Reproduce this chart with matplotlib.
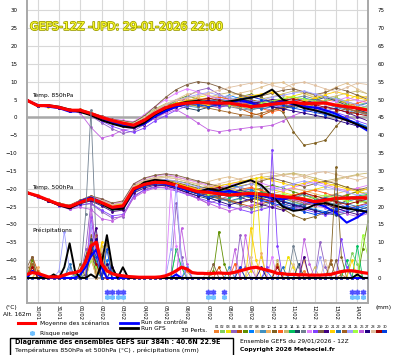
import numpy as np
import matplotlib
matplotlib.use('Agg')
import matplotlib.pyplot as plt
import matplotlib.patheffects as pe
from matplotlib.lines import Line2D
from matplotlib.patches import Rectangle

W, H = 395, 355

# forecast hours since 29/01 12Z
hours = np.arange(0, 385, 12)      # temperatures
hours_pr = np.arange(0, 385, 6)    # precipitation

day_hours = np.arange(12, 385, 24)
day_labels = ['30/01', '31/01', '01/02', '02/02', '03/02', '04/02', '05/02', '06/02',
              '07/02', '08/02', '09/02', '10/02', '11/02', '12/02', '13/02', '14/02']
snow_hours = [90, 96, 102, 108, 204, 210, 222, 366, 372, 378]

member_colors = ['#f08030', '#80d060', '#f0e000', '#9060c0', '#c05000', '#609000', '#0080ff',
                 '#e0c090', '#4090c0', '#f0b060', '#806020', '#ff6020', '#c8b870', '#00c060',
                 '#204060', '#708090', '#e080ff', '#8040ff', '#806040', '#400080', '#ffd000',
                 '#2070c0', '#a06020', '#a0a0ff', '#a0ff40', '#c060e0', '#200080', '#e0c0a0',
                 '#a00000', '#0040e0']

# ---- 850 hPa temperature (°C) ----
mean850 = [4.8, 3.3, 3.3, 2.8, 2.0, 2.0, 1.1, 0.0, -0.9, -1.6, -2.2, -0.8, 1.2, 2.7, 3.6, 4.0, 4.2,
           4.1, 4.0, 4.0, 3.5, 3.0, 3.3, 3.7, 4.0, 4.3, 3.8, 4.0, 4.0, 3.4, 3.0, 2.6, 2.0]
ctrl850 = [4.8, 3.5, 3.0, 2.6, 1.6, 1.8, 0.8, -0.5, -1.5, -2.3, -2.8, -1.8, 0.3, 1.8, 3.0, 3.8, 4.5,
           4.0, 3.6, 4.2, 4.8, 4.0, 3.2, 3.8, 4.5, 3.6, 3.0, 2.8, 2.0, 1.0, -0.5, -2.0, -3.8]
gfs850 = [4.8, 3.2, 3.4, 3.0, 2.2, 1.5, 0.6, -0.8, -1.8, -2.6, -2.9, -1.5, 0.8, 2.4, 3.6, 4.4, 4.6,
          4.2, 4.0, 4.5, 5.0, 5.5, 6.2, 7.8, 5.0, 3.8, 2.6, 2.0, 1.2, 0.2, -0.8, -2.0, -3.2]
t850 = [
    [4.9, 3.6, 3.1, 2.5, 2.3, 1.7, 0.9, -0.4, -1.2, -2.0, -2.4, -0.2, 2.0, 3.5, 4.6, 5.2, 4.8, 3.9, 3.2, 3.8, 4.5, 3.6, 2.8, 3.5, 5.0, 5.8, 4.6, 3.9, 4.4, 5.2, 4.1, 3.0, 2.4],
    [4.7, 3.1, 3.5, 3.0, 1.8, 2.2, 1.4, 0.3, -0.6, -1.0, -1.5, 0.5, 2.4, 3.8, 4.2, 3.6, 3.1, 3.8, 4.9, 5.5, 4.2, 3.3, 4.0, 4.8, 5.3, 4.0, 3.2, 3.6, 4.8, 5.6, 4.4, 3.5, 4.2],
    [4.8, 3.4, 3.0, 2.9, 2.1, 1.8, 1.0, 0.1, -1.1, -1.9, -2.6, -1.5, 0.6, 2.0, 3.2, 4.5, 5.6, 6.2, 5.0, 4.1, 3.0, 2.4, 3.1, 4.4, 5.2, 6.0, 6.8, 5.5, 4.3, 3.6, 4.8, 6.2, 5.5],
    [4.6, 3.2, 3.3, 2.6, 1.9, 2.1, 0.4, -1.5, -3.2, -4.5, -3.8, -2.0, 0.2, 1.5, 3.0, 5.8, 7.5, 8.2, 6.5, 5.0, 4.2, 3.5, 2.8, 2.0, 3.2, 4.5, 3.6, 2.5, 1.8, 2.6, 3.4, 2.2, 1.0],
    [4.9, 3.5, 3.2, 2.7, 2.0, 2.3, 1.3, 0.2, -0.8, -1.4, -2.0, -0.5, 1.5, 2.8, 3.5, 3.8, 4.5, 5.0, 4.4, 3.6, 2.5, 1.2, 0.5, 1.8, 3.0, 3.6, 2.8, 3.5, 4.0, 3.2, 2.4, 1.5, 0.8],
    [4.8, 3.3, 3.4, 2.9, 2.2, 1.9, 1.2, 0.1, -1.0, -1.7, -2.3, -1.0, 1.0, 3.0, 4.8, 6.0, 5.2, 4.4, 3.8, 4.6, 5.8, 6.5, 5.6, 4.2, 3.5, 3.0, 4.0, 5.2, 6.0, 5.0, 3.8, 2.5, 3.3],
    [4.7, 3.2, 3.2, 2.7, 1.9, 2.0, 1.0, -0.2, -1.3, -2.2, -2.9, -1.8, 0.0, 1.8, 3.0, 3.6, 4.0, 4.6, 5.4, 6.2, 5.2, 4.0, 3.5, 4.2, 4.9, 4.2, 3.0, 2.2, 1.5, 0.6, -0.5, -1.5, -2.6],
    [4.8, 3.4, 3.3, 2.8, 2.1, 2.0, 1.2, 0.3, -0.5, -1.3, -1.8, 0.0, 2.2, 3.8, 5.0, 6.5, 7.0, 6.2, 5.5, 6.0, 6.8, 7.5, 8.5, 9.5, 9.8, 8.2, 6.5, 5.8, 7.0, 8.5, 9.6, 8.0, 6.5],
    [4.8, 3.2, 3.4, 2.6, 1.8, 2.1, 1.0, -0.1, -1.0, -1.8, -2.5, -1.2, 0.5, 2.2, 3.4, 3.2, 2.8, 3.5, 4.2, 3.6, 2.9, 2.2, 3.0, 3.8, 3.2, 2.5, 3.4, 4.5, 3.8, 2.8, 2.0, 1.2, 2.0],
    [4.9, 3.5, 3.2, 2.8, 2.2, 1.9, 1.2, 0.2, -0.7, -1.5, -2.0, -0.6, 1.6, 3.2, 4.0, 4.6, 5.5, 4.8, 4.2, 3.4, 2.6, 3.5, 4.5, 5.0, 4.2, 3.6, 2.8, 2.0, 2.9, 3.8, 4.5, 5.2, 6.0],
    [4.7, 3.3, 3.4, 2.9, 2.0, 2.1, 1.1, 0.0, -0.9, -1.5, -2.1, -0.4, 1.8, 3.2, 4.0, 4.4, 3.8, 3.2, 2.8, 3.6, 4.4, 5.0, 4.2, 3.2, 1.5, -4.0, -7.8, -7.2, -6.4, -2.5, 0.5, 1.8, 2.5],
    [4.8, 3.3, 3.2, 2.8, 2.1, 2.0, 1.0, -0.1, -1.0, -1.6, -2.2, -0.9, 1.1, 2.6, 3.7, 4.2, 4.6, 5.2, 5.8, 5.0, 4.2, 3.6, 2.5, 1.6, 2.2, 3.5, 4.2, 5.0, 4.4, 3.6, 3.0, 4.0, 4.8],
    [4.8, 3.4, 3.1, 2.7, 2.0, 1.9, 1.1, 0.1, -0.8, -1.6, -2.2, -1.0, 1.0, 2.4, 3.3, 4.0, 4.8, 5.6, 6.4, 7.0, 6.4, 5.8, 5.2, 5.8, 6.6, 7.4, 7.0, 6.2, 5.4, 6.0, 6.8, 7.4, 6.6],
    [4.8, 3.3, 3.3, 2.8, 2.0, 2.0, 1.0, 0.0, -0.9, -1.7, -2.3, -0.9, 1.3, 2.8, 3.6, 4.1, 4.3, 4.0, 3.9, 4.1, 3.6, 3.2, 3.4, 3.8, 4.1, 4.4, 3.9, 4.1, 4.0, 3.5, 3.1, 2.7, 2.2],
    [4.8, 3.4, 3.2, 2.7, 1.9, 2.0, 1.2, 0.2, -0.7, -1.3, -1.9, -0.5, 1.4, 2.9, 3.3, 2.6, 2.0, 2.8, 3.6, 4.4, 5.2, 4.6, 3.8, 3.0, 2.4, 3.2, 4.0, 4.8, 5.6, 4.6, 3.4, 2.2, 1.2],
    [4.9, 3.3, 3.3, 2.8, 2.0, 1.9, 1.0, -0.2, -1.2, -2.0, -2.6, -1.3, 0.8, 2.3, 3.6, 4.4, 5.0, 4.4, 3.6, 3.0, 2.4, 2.0, 2.8, 3.6, 4.6, 5.4, 6.0, 5.2, 4.2, 3.4, 2.6, 1.6, 0.6],
    [4.7, 3.2, 3.4, 2.9, 2.1, 2.1, 1.2, 0.4, -0.4, -0.8, -1.2, 0.8, 3.0, 5.0, 6.8, 8.0, 7.2, 6.0, 5.2, 4.8, 5.5, 6.2, 5.0, 4.2, 3.6, 4.4, 5.2, 4.5, 3.8, 4.6, 5.6, 4.8, 4.0],
    [4.8, 3.2, 3.2, 2.7, 1.8, 1.8, 0.6, -1.0, -2.5, -3.5, -4.2, -3.0, -1.0, 0.5, 2.0, 3.2, 4.0, 3.6, 2.8, 3.4, 4.0, 4.6, 4.0, 3.4, 2.8, 3.6, 4.4, 3.4, 2.2, 1.4, 0.4, -1.0, -2.0],
    [4.8, 3.5, 3.4, 2.8, 2.1, 2.0, 1.3, 0.4, -0.5, -1.0, -1.4, 0.4, 3.0, 5.6, 7.8, 9.2, 10.0, 9.6, 8.6, 7.4, 6.2, 5.6, 6.0, 6.8, 7.6, 8.0, 7.2, 6.4, 7.0, 8.2, 7.4, 6.2, 5.0],
    [4.8, 3.3, 3.2, 2.7, 1.9, 2.0, 1.0, -0.3, -1.4, -2.4, -3.0, -2.0, -0.2, 1.5, 2.8, 3.8, 4.4, 4.8, 4.2, 3.6, 3.2, 3.8, 4.4, 5.0, 4.6, 3.8, 3.2, 2.6, 3.0, 2.4, 1.4, 0.2, -1.0],
    [4.9, 3.4, 3.3, 2.9, 2.2, 2.1, 1.2, 0.1, -0.8, -1.4, -2.0, -0.7, 1.2, 2.9, 4.0, 4.8, 4.2, 3.4, 3.8, 4.6, 5.4, 6.0, 6.6, 7.0, 6.2, 5.4, 4.6, 5.4, 6.4, 7.2, 6.4, 5.6, 4.8],
    [4.8, 3.3, 3.4, 2.8, 2.0, 2.0, 1.1, 0.0, -0.9, -1.8, -2.4, -1.1, 0.9, 2.5, 3.2, 3.6, 3.8, 4.4, 5.0, 4.6, 3.8, 3.0, 2.4, 3.0, 3.8, 4.6, 5.4, 4.8, 4.0, 3.2, 2.4, 3.2, 4.0],
    [4.8, 3.4, 3.2, 2.8, 2.0, 2.0, 1.1, 0.0, -0.9, -1.6, -2.2, -0.8, 1.2, 2.6, 3.4, 3.8, 3.2, 2.6, 2.0, 1.4, 0.8, 0.5, 1.2, 2.0, 2.8, 3.4, 2.6, 1.8, 1.0, 1.6, 2.4, 1.8, 1.0],
    [4.7, 3.3, 3.3, 2.8, 2.0, 2.1, 1.1, 0.0, -0.8, -1.5, -2.1, -0.6, 1.6, 3.4, 4.8, 5.6, 6.4, 7.0, 6.2, 5.6, 4.8, 4.2, 4.8, 5.6, 6.2, 6.8, 7.4, 6.6, 5.8, 5.2, 4.4, 3.6, 2.8],
    [4.8, 3.3, 3.3, 2.8, 2.0, 2.0, 1.1, 0.0, -0.9, -1.6, -2.2, -0.8, 1.2, 2.8, 3.8, 4.4, 4.8, 4.4, 4.0, 3.6, 3.2, 3.6, 4.0, 4.6, 5.2, 5.8, 5.2, 4.6, 4.0, 3.6, 3.4, 3.0, 2.6],
    [4.7, 3.1, 3.2, 2.6, 1.8, 1.2, -2.8, -5.8, -5.0, -3.5, -3.0, -1.8, -0.2, 1.2, 2.2, 0.5, -1.5, -3.4, -4.0, -3.6, -3.2, -2.8, -2.6, -2.2, -1.0, 0.5, 1.6, 2.0, 1.0, 0.0, -1.0, -2.0, -3.0],
    [4.8, 3.3, 3.2, 2.7, 1.9, 1.9, 1.0, -0.2, -1.2, -2.0, -2.7, -1.6, 0.4, 2.0, 3.2, 4.0, 4.6, 4.2, 3.8, 4.4, 5.0, 4.4, 3.6, 3.0, 2.4, 1.8, 1.2, 0.6, 0.0, -0.8, -1.6, -2.4, -3.2],
    [4.8, 3.4, 3.3, 2.9, 2.1, 2.0, 1.2, 0.2, -0.6, -1.2, -1.7, 0.0, 1.8, 3.6, 4.8, 5.4, 6.0, 6.8, 7.6, 8.4, 9.0, 9.6, 9.8, 9.0, 8.2, 9.4, 9.9, 9.0, 8.0, 7.2, 8.4, 9.6, 9.2],
    [4.8, 3.3, 3.3, 2.8, 2.0, 2.0, 1.0, -0.1, -1.0, -1.8, -2.4, -1.0, 1.0, 2.4, 3.4, 4.2, 4.8, 5.4, 4.8, 4.2, 3.6, 3.0, 3.6, 4.2, 4.8, 5.2, 4.4, 3.6, 2.8, 2.2, 1.6, 1.0, 0.4],
    [4.8, 3.3, 3.2, 2.8, 2.0, 1.9, 1.0, -0.2, -1.1, -1.9, -2.5, -1.3, 0.7, 2.3, 3.5, 4.1, 3.6, 3.0, 3.6, 4.4, 5.2, 5.8, 5.0, 4.2, 3.4, 2.6, 2.0, 1.4, 0.8, 0.2, -0.6, -1.6, -2.8],
]

# ---- 500 hPa temperature (°C) ----
mean500 = [-21.1, -22.0, -23.2, -24.4, -25.0, -23.8, -22.8, -23.9, -25.2, -24.8, -20.0, -18.8, -18.2,
           -18.3, -19.0, -19.9, -20.8, -21.0, -21.4, -21.8, -21.5, -21.3, -21.5, -21.9, -22.2, -22.5,
           -23.0, -23.6, -23.2, -22.7, -22.6, -22.5, -22.6]
ctrl500 = [-21.1, -22.2, -23.3, -24.5, -25.3, -23.5, -22.4, -23.8, -25.4, -25.2, -20.6, -19.0, -18.4,
           -18.6, -19.5, -20.3, -20.8, -20.2, -21.0, -20.6, -21.2, -22.0, -21.8, -22.5, -23.0, -22.4,
           -23.2, -24.0, -25.0, -26.8, -29.5, -28.0, -26.0]
gfs500 = [-21.1, -22.1, -23.4, -24.6, -25.5, -24.0, -22.6, -24.2, -25.8, -25.6, -20.4, -18.2, -17.5,
          -17.8, -18.9, -20.0, -21.0, -20.0, -20.5, -19.5, -18.5, -17.6, -19.0, -22.0, -25.0, -26.2,
          -25.8, -24.5, -24.0, -24.8, -25.5, -26.0, -26.5]
t500 = [
    [-21.0, -21.8, -23.0, -24.0, -24.6, -23.2, -22.0, -23.2, -24.6, -24.0, -19.2, -18.0, -17.4, -17.8, -18.6, -19.2, -20.0, -19.6, -20.4, -21.2, -20.6, -19.8, -20.6, -21.8, -22.6, -21.8, -21.0, -22.4, -23.6, -22.8, -21.6, -20.8, -21.6],
    [-21.2, -22.1, -23.4, -24.6, -25.3, -24.2, -23.4, -24.6, -26.0, -25.8, -21.0, -19.4, -18.6, -18.2, -18.8, -19.6, -20.2, -21.6, -22.8, -23.6, -22.8, -21.6, -20.8, -21.4, -22.6, -23.8, -24.6, -23.8, -22.6, -21.8, -22.4, -23.2, -24.0],
    [-21.1, -22.0, -23.1, -24.3, -24.8, -23.4, -22.4, -23.4, -24.8, -24.2, -19.6, -18.4, -17.8, -18.0, -18.4, -19.2, -20.4, -21.2, -20.8, -20.0, -19.2, -18.6, -19.4, -20.2, -21.0, -21.8, -21.0, -20.2, -19.4, -18.6, -19.6, -20.6, -21.4],
    [-21.0, -22.0, -23.2, -24.6, -25.4, -24.6, -24.2, -26.4, -28.2, -27.8, -22.4, -20.2, -19.4, -19.0, -19.8, -21.2, -22.6, -24.2, -23.0, -22.0, -20.8, -20.2, -21.6, -23.0, -24.4, -25.8, -24.8, -23.6, -22.4, -23.8, -25.2, -26.0, -25.2],
    [-21.1, -22.0, -23.3, -24.5, -25.1, -23.8, -22.6, -23.8, -25.0, -24.6, -19.8, -18.6, -18.0, -18.4, -19.2, -20.2, -21.2, -22.0, -22.8, -23.4, -24.2, -25.0, -24.2, -23.4, -22.6, -21.8, -22.6, -23.4, -24.2, -25.0, -25.6, -24.8, -24.0],
    [-21.2, -22.1, -23.2, -24.3, -24.9, -23.6, -22.8, -23.8, -25.0, -24.6, -20.2, -18.8, -18.0, -17.6, -17.8, -18.4, -19.2, -20.0, -21.0, -22.0, -21.4, -20.6, -19.8, -19.0, -19.8, -20.8, -21.8, -22.8, -23.6, -22.8, -21.8, -20.8, -20.0],
    [-21.0, -21.9, -23.1, -24.2, -25.0, -23.9, -23.0, -24.2, -25.6, -25.2, -20.4, -19.2, -18.6, -18.8, -19.6, -20.6, -21.4, -20.8, -19.8, -19.0, -19.6, -20.4, -21.4, -22.4, -23.4, -24.2, -25.0, -25.8, -26.4, -27.0, -26.2, -25.4, -24.6],
    [-21.1, -22.0, -23.2, -24.4, -25.0, -23.7, -22.6, -23.6, -24.8, -24.2, -19.4, -18.0, -17.2, -16.8, -17.2, -18.0, -18.8, -18.0, -17.2, -16.6, -17.4, -18.2, -17.4, -16.8, -16.2, -15.8, -16.6, -17.6, -18.4, -17.6, -16.8, -16.2, -17.0],
    [-21.1, -22.1, -23.3, -24.5, -25.2, -24.0, -23.0, -24.0, -25.4, -25.0, -20.2, -19.0, -18.4, -18.6, -19.4, -20.4, -21.4, -22.4, -23.4, -22.6, -21.6, -20.8, -21.6, -22.4, -23.2, -22.4, -21.6, -22.6, -23.6, -24.4, -23.6, -22.8, -23.6],
    [-21.0, -21.9, -23.1, -24.3, -24.9, -23.6, -22.6, -23.6, -24.8, -24.4, -19.6, -18.4, -17.8, -18.0, -18.6, -19.4, -20.2, -19.6, -19.0, -19.8, -20.6, -21.4, -22.2, -21.4, -20.6, -19.8, -20.6, -21.4, -22.2, -21.4, -20.6, -19.8, -20.4],
    [-21.1, -22.0, -23.2, -24.4, -25.0, -23.8, -22.8, -23.9, -25.2, -24.8, -20.0, -18.6, -17.8, -17.6, -18.2, -19.0, -19.8, -19.4, -20.2, -21.0, -21.8, -22.6, -23.4, -24.2, -25.6, -27.4, -28.6, -27.8, -26.6, -24.8, -23.2, -22.4, -22.0],
    [-21.2, -22.1, -23.3, -24.4, -25.0, -23.8, -22.7, -23.8, -25.1, -24.7, -19.9, -18.7, -18.1, -18.2, -18.8, -19.6, -20.4, -21.2, -22.0, -21.2, -20.2, -19.6, -20.4, -21.4, -22.4, -21.8, -21.0, -20.4, -21.2, -22.2, -23.0, -22.4, -21.8],
    [-21.0, -21.9, -23.0, -24.2, -24.8, -23.4, -22.2, -23.2, -24.4, -23.8, -19.0, -17.6, -16.8, -16.4, -16.8, -17.4, -18.0, -18.6, -19.2, -18.6, -18.0, -17.4, -16.8, -16.4, -16.0, -15.6, -16.2, -17.0, -17.8, -17.2, -16.6, -16.0, -15.6],
    [-21.1, -22.0, -23.2, -24.4, -25.0, -23.8, -22.8, -23.9, -25.2, -24.8, -20.0, -18.8, -18.2, -18.3, -19.0, -19.9, -20.8, -21.2, -21.6, -22.2, -21.8, -21.4, -21.0, -21.6, -22.2, -22.8, -23.4, -24.0, -23.4, -22.8, -22.4, -22.0, -21.6],
    [-21.1, -22.1, -23.3, -24.5, -25.2, -24.0, -23.2, -24.4, -25.8, -25.4, -20.6, -19.4, -18.8, -19.2, -20.0, -21.0, -22.0, -22.8, -22.0, -21.2, -20.4, -21.2, -22.0, -22.8, -23.6, -24.4, -25.2, -26.0, -26.8, -27.4, -26.8, -26.0, -25.2],
    [-21.0, -21.9, -23.1, -24.3, -24.9, -23.7, -22.8, -23.8, -25.0, -24.6, -19.8, -18.6, -18.0, -18.1, -18.8, -19.6, -20.6, -21.6, -22.6, -23.6, -24.6, -25.6, -24.8, -23.8, -22.8, -23.6, -24.4, -23.4, -22.4, -21.6, -22.4, -23.2, -22.4],
    [-21.1, -22.0, -23.2, -24.3, -24.8, -23.4, -22.2, -23.0, -24.2, -23.6, -18.8, -17.2, -16.4, -16.0, -16.6, -17.4, -18.2, -19.0, -19.8, -19.0, -18.2, -17.6, -18.4, -19.4, -20.4, -19.6, -18.8, -18.0, -18.8, -19.8, -20.6, -19.8, -19.0],
    [-21.2, -22.2, -23.4, -24.7, -25.6, -24.6, -24.0, -26.0, -27.6, -27.2, -22.0, -20.4, -19.6, -19.8, -20.6, -21.6, -22.6, -23.4, -24.2, -25.0, -25.8, -26.6, -25.8, -25.0, -24.2, -25.0, -25.8, -26.6, -27.4, -26.6, -25.8, -25.0, -24.2],
    [-21.0, -21.9, -23.0, -24.1, -24.6, -23.2, -22.0, -22.8, -24.0, -23.4, -18.6, -17.0, -16.2, -15.8, -16.2, -17.0, -17.8, -18.6, -19.4, -20.2, -19.4, -18.6, -17.8, -17.0, -17.8, -18.6, -19.4, -18.6, -17.8, -18.6, -19.6, -20.4, -19.6],
    [-21.1, -22.1, -23.3, -24.6, -25.3, -24.2, -23.4, -24.8, -26.4, -26.0, -21.2, -19.8, -19.0, -19.2, -20.0, -21.0, -22.0, -21.4, -20.6, -21.4, -22.4, -23.4, -24.4, -25.2, -26.0, -25.2, -24.4, -23.6, -24.4, -25.4, -26.4, -27.2, -26.4],
    [-21.1, -22.0, -23.1, -24.3, -24.9, -23.6, -22.5, -23.5, -24.7, -24.3, -19.5, -18.3, -17.7, -17.8, -18.5, -19.4, -20.3, -19.8, -19.2, -18.6, -18.0, -17.4, -16.8, -17.6, -18.4, -19.2, -18.4, -17.6, -18.4, -19.2, -20.0, -20.8, -20.0],
    [-21.0, -22.0, -23.2, -24.4, -25.1, -23.9, -22.9, -24.0, -25.3, -24.9, -20.1, -18.9, -18.3, -18.4, -19.1, -20.0, -20.9, -21.8, -22.6, -23.4, -22.6, -21.8, -22.6, -23.4, -24.2, -25.0, -24.2, -23.4, -22.6, -23.4, -24.2, -25.0, -25.8],
    [-21.2, -22.1, -23.3, -24.5, -25.1, -23.9, -22.9, -24.0, -25.3, -24.9, -20.1, -18.9, -18.3, -18.4, -19.1, -20.0, -20.9, -21.6, -22.4, -23.2, -24.0, -23.2, -22.4, -21.6, -22.4, -23.2, -24.0, -24.8, -24.0, -23.2, -22.4, -23.2, -24.0],
    [-21.1, -22.0, -23.2, -24.4, -25.0, -23.8, -22.8, -23.9, -25.2, -24.8, -20.0, -18.6, -17.8, -17.4, -17.8, -18.6, -19.4, -20.2, -21.0, -20.2, -19.4, -18.6, -19.4, -20.2, -19.4, -18.6, -17.8, -18.6, -19.4, -20.2, -21.0, -21.8, -21.0],
    [-21.0, -21.9, -23.1, -24.3, -24.9, -23.7, -22.7, -23.8, -25.1, -24.7, -19.9, -18.7, -18.1, -18.2, -18.9, -19.8, -20.7, -21.4, -20.8, -20.2, -21.0, -21.8, -22.6, -22.0, -21.4, -22.2, -23.0, -22.4, -21.8, -22.6, -23.4, -24.0, -23.4],
    [-21.2, -22.2, -23.4, -24.8, -25.8, -25.2, -25.8, -28.4, -29.0, -27.4, -22.6, -20.8, -19.8, -19.6, -20.4, -21.4, -22.8, -24.0, -25.2, -26.2, -25.4, -24.6, -23.8, -23.0, -22.2, -23.0, -23.8, -24.6, -25.4, -26.2, -27.0, -27.8, -27.0],
    [-21.1, -22.1, -23.3, -24.5, -25.2, -24.0, -23.0, -24.1, -25.5, -25.1, -20.3, -19.1, -18.5, -18.7, -19.5, -20.5, -21.5, -22.5, -23.5, -24.5, -23.7, -22.9, -22.1, -22.9, -23.7, -24.5, -25.3, -26.1, -26.9, -26.1, -25.3, -26.1, -26.9],
    [-21.0, -21.9, -23.0, -24.2, -24.7, -23.4, -22.3, -23.3, -24.5, -24.0, -19.2, -17.8, -17.0, -16.8, -17.2, -17.9, -18.6, -19.3, -18.6, -17.9, -17.2, -16.5, -15.8, -15.4, -16.2, -17.0, -16.4, -15.6, -15.2, -16.0, -16.8, -17.6, -16.8],
    [-21.1, -22.0, -23.2, -24.4, -25.0, -23.8, -22.8, -23.9, -25.2, -24.8, -20.0, -18.8, -18.2, -18.3, -19.0, -19.9, -20.8, -20.2, -19.6, -20.4, -21.2, -22.0, -22.8, -23.6, -22.8, -22.0, -21.2, -22.0, -22.8, -23.6, -24.4, -23.6, -22.8],
    [-21.1, -22.0, -23.2, -24.5, -25.1, -23.9, -23.0, -24.2, -25.5, -25.1, -20.3, -19.1, -18.5, -18.7, -19.4, -20.4, -21.4, -22.4, -21.6, -20.8, -21.6, -22.4, -23.2, -24.0, -24.8, -25.6, -26.4, -27.2, -26.4, -25.6, -24.8, -25.6, -26.4],
]

# ---- precipitation (mm / 6h) ----
mean_pr = [1.0, 1.5, 1.3, 0.8, 0.3, 0.3, 0.3, 0.8, 1.3, 1.5, 2.0, 4.5, 9.0,
           10.0, 4.0, 2.0, 1.2, 0.8, 0.6, 0.4, 0.3, 0.2, 0.2, 0.2, 0.2, 0.3,
           0.6, 1.2, 2.0, 3.0, 2.5, 1.5, 1.3, 1.3, 1.2, 1.3, 1.4, 1.3, 1.3,
           1.6, 2.0, 2.4, 2.8, 3.0, 2.6, 2.2, 1.8, 1.3, 1.2, 1.0, 1.0, 0.9,
           0.9, 0.8, 0.8, 0.8, 0.9, 1.0, 1.4, 1.8, 2.0, 2.0, 1.8, 1.5, 1.3]
ctrl_pr = [0, 2, 1, 0, 0, 0, 0, 0, 0, 0, 1, 3, 6,
           8, 3, 0, 0, 0, 0, 0, 0, 0, 0, 0, 0, 0,
           0, 0, 1, 0, 0, 0, 0, 0, 0, 0, 0, 0, 0,
           0, 0, 0, 0, 0, 0, 0, 0, 0, 0, 0, 0, 0,
           0, 0, 0, 0, 0, 0, 0, 0, 0, 0, 0, 0, 0]
gfs_pr = [0, 0, 0, 0, 0, 1, 0, 3, 9.7, 2, 0, 0, 1,
          0, 4, 12, 3, 0, 3, 0, 0, 0, 0, 0, 0, 0,
          0, 0, 0, 0, 0, 0, 0, 0, 0, 0, 0, 0, 0,
          0, 0, 0, 0, 0, 0, 0, 0, 0, 0, 0, 0, 0,
          0, 0, 0, 0, 0, 0, 0, 0, 0, 0, 1, 0, 0]
precip = [
    [0,2,1,0,0,0,0,0,0,0,0,5,8, 3,0,0,0,0,0,0,0,0,0,0,0,0, 0,0,0,0,2,0,0,0,0,0,0,0,0, 0,3,0,0,0,0,0,0,0,0,0,0,0, 2,0,0,0,0,0,0,1,0,0,0,0,0],
    [0,0,0,0,0,0,0,0,0,1,0,2,6, 9,4,0,0,0,0,0,0,0,0,0,0,0, 0,0,8,3,0,0,0,0,0,0,0,0,0, 0,0,0,0,0,0,0,0,0,0,0,0,0, 0,0,0,0,0,0,0,0,0,7,4,0,0],
    [0,0,2,0,0,0,0,0,0,0,0,6,12, 5,0,0,0,0,0,0,0,0,0,0,0,0, 0,0,0,0,0,0,0,0,0,0,0,0,0, 0,0,0,2,28,6,0,0,0,0,6,3,0, 0,0,0,0,0,0,0,0,0,0,0,0,0],
    [0,0,0,0,0,0,0,0,0,0,0,8,21, 7,0,0,0,0,0,0,0,0,0,0,0,0, 0,0,21,6,0,0,0,0,0,0,0,0,0, 0,12,3,0,0,0,0,0,0,0,0,0,0, 0,0,0,10,3,0,0,0,0,0,0,0,0],
    [0,6,2,0,0,0,0,0,0,0,0,1,10, 4,0,0,0,0,0,0,0,0,0,0,0,0, 0,0,0,0,0,0,0,0,0,0,3,0,0, 0,0,0,0,0,0,0,0,4,0,0,0,0, 0,0,0,0,0,0,0,0,0,0,0,0,0],
    [0,5,0,0,0,0,0,0,0,0,0,0,8, 1,6,0,0,0,0,0,0,0,0,0,0,0, 0,0,0,0,0,0,0,0,0,2,13,4,0, 0,0,0,0,0,0,0,0,0,0,0,0,0, 0,0,0,0,0,0,0,0,0,0,0,8,16],
    [0,0,0,0,0,0,0,0,0,0,0,4,9, 2,0,5,0,0,0,0,0,0,0,0,0,0, 0,0,0,0,3,0,0,0,0,0,0,0,0, 0,0,0,0,0,0,2,0,0,0,0,0,0, 0,0,0,0,0,0,0,0,0,0,0,0,0],
    [0,0,0,0,0,0,0,0,0,0,0,2,6, 4,0,0,0,0,0,0,0,0,0,0,0,0, 0,0,0,0,0,0,0,0,2,0,0,0,0, 0,0,0,0,0,0,0,0,0,0,0,4,0, 0,0,0,0,0,0,0,0,0,0,0,0,0],
    [0,0,0,0,0,0,0,0,3,0,0,1,10, 6,0,0,2,0,0,0,0,0,0,0,0,0, 0,0,0,0,0,0,0,0,0,0,0,0,3, 0,0,0,0,0,0,0,0,0,0,0,0,0, 0,0,0,0,0,0,0,0,0,0,0,0,0],
    [0,0,3,0,0,0,0,0,0,0,0,0,5, 2,8,0,0,0,0,0,0,0,0,0,0,0, 0,0,0,0,0,0,0,0,0,0,0,0,0, 0,0,0,0,0,7,0,0,0,0,0,0,0, 5,0,0,0,0,0,0,0,0,0,0,0,0],
    [0,0,0,0,0,0,0,0,0,0,4,0,12, 8,0,0,0,0,0,0,0,0,0,0,0,0, 0,0,0,0,0,0,0,0,0,0,0,0,0, 0,0,0,0,0,0,0,0,0,0,0,0,0, 0,0,0,0,0,4,31,6,0,0,0,0,0],
    [0,3,0,0,0,0,0,0,0,0,0,0,7, 12,4,0,0,0,0,0,0,0,0,0,0,0, 0,0,0,0,0,0,0,0,0,0,0,0,0, 4,0,0,0,0,0,0,0,0,0,0,0,0, 0,0,0,0,0,0,0,0,0,0,0,0,0],
    [0,0,0,0,0,0,0,0,0,0,0,0,5, 1,9,3,0,0,0,0,0,0,0,0,0,0, 0,0,0,0,0,0,0,0,0,0,0,0,0, 0,0,0,0,0,0,0,0,5,0,0,0,0, 0,0,3,0,0,0,0,0,0,0,0,0,0],
    [0,0,0,0,0,0,0,0,0,0,0,0,8, 5,0,0,0,0,0,0,0,0,0,0,0,0, 0,0,8,3,0,0,0,0,0,0,0,0,0, 0,0,0,0,0,0,0,0,0,0,0,0,0, 0,0,0,0,0,0,0,0,5,0,9,0,0],
    [0,0,0,0,0,0,0,0,0,0,0,6,11, 3,0,0,0,0,0,0,0,0,0,0,0,0, 0,0,0,0,0,0,0,0,0,0,0,0,0, 0,0,0,0,0,0,0,0,0,0,0,0,4, 0,0,0,0,0,0,0,0,0,0,0,0,0],
    [0,0,0,0,0,0,0,0,0,0,0,18,47, 9,0,0,0,0,0,0,0,0,0,0,0,0, 0,0,0,0,0,0,0,0,0,0,0,0,0, 0,0,0,0,0,0,0,0,0,0,0,9,3, 0,0,0,0,0,0,0,0,0,0,0,0,0],
    [0,0,0,0,0,0,0,0,0,0,0,0,14, 6,0,0,0,0,0,0,0,0,0,0,0,0, 0,25,9,0,0,0,0,0,0,0,0,0,0, 0,0,0,0,0,0,0,6,0,0,0,0,0, 0,0,0,0,0,0,0,0,0,0,0,0,0],
    [0,0,0,0,0,0,0,0,0,0,0,0,17, 8,0,0,0,0,0,0,0,0,0,0,0,0, 0,0,0,0,0,0,0,0,0,0,0,0,0, 0,0,0,0,0,0,3,36,9,0,0,0,0, 0,0,0,0,0,0,0,11,3,0,0,0,0],
    [3,6,0,0,0,0,0,0,0,0,0,0,7, 0,0,10,0,0,0,0,0,0,0,0,0,0, 0,0,0,0,0,0,0,0,0,4,0,0,0, 0,0,0,0,0,0,0,0,0,0,0,0,0, 0,0,0,0,0,0,5,0,0,0,0,0,0],
    [0,0,0,0,0,0,0,0,0,0,0,0,9, 14,0,0,3,0,0,0,0,0,0,0,0,0, 0,0,0,0,0,0,0,0,0,0,0,0,0, 0,0,0,0,0,0,0,0,0,0,0,0,0, 6,0,0,0,0,0,0,0,0,0,0,0,0],
    [0,0,0,0,0,0,0,0,0,0,0,0,6, 0,10,0,0,0,0,0,0,0,0,0,0,0, 0,0,0,0,0,0,0,0,0,0,0,0,0, 0,0,0,14,5,0,0,0,0,0,0,0,0, 0,0,0,0,0,0,0,0,0,5,0,0,0],
    [0,0,0,0,0,0,0,0,4,0,0,0,8, 6,0,0,0,0,0,0,0,0,0,0,0,0, 0,0,0,0,0,0,0,0,0,0,0,0,0, 0,0,0,0,0,0,0,0,0,3,0,0,0, 0,0,0,0,0,0,0,0,0,0,0,0,0],
    [0,4,0,0,0,0,0,0,0,0,0,0,10, 0,7,0,0,0,0,0,0,0,0,0,0,0, 0,0,0,0,0,0,0,0,0,0,0,0,0, 0,0,0,0,0,0,0,0,0,0,0,0,0, 0,0,0,0,0,5,0,0,0,0,0,0,0],
    [0,0,0,0,0,0,2,13,2,0,0,0,15, 6,0,0,0,0,0,0,0,0,0,0,0,0, 0,8,26,4,0,0,0,0,0,0,0,0,0, 0,0,0,0,0,0,0,0,0,0,0,0,0, 0,0,0,6,0,0,0,0,0,0,0,0,0],
    [0,0,0,0,0,0,0,0,0,0,0,0,5, 3,0,0,0,0,0,0,0,0,0,0,0,0, 0,0,0,0,0,0,0,0,0,0,0,0,0, 0,0,0,0,0,0,0,0,0,0,0,0,0, 0,0,0,0,0,0,0,0,0,0,0,12,6],
    [0,0,0,0,0,0,0,0,0,0,0,0,19, 7,0,0,0,0,0,0,0,0,0,0,0,0, 0,0,0,14,4,0,0,0,0,0,0,0,0, 8,0,12,3,0,0,0,0,0,0,0,0,0, 11,4,0,0,0,0,0,0,0,0,0,0,0],
    [0,0,0,0,0,0,0,0,0,0,0,0,7, 11,0,4,0,0,0,0,0,0,0,0,0,0, 0,0,0,0,0,0,0,0,0,0,0,0,0, 0,0,0,0,0,3,0,0,0,0,0,0,0, 0,0,0,0,0,0,0,0,0,0,0,0,0],
    [0,0,0,0,0,0,0,0,0,0,0,0,6, 0,8,0,0,0,0,0,0,0,0,0,0,0, 0,0,0,0,0,0,0,0,0,0,0,0,0, 0,0,0,6,0,0,0,0,0,0,0,0,0, 0,0,0,0,5,0,0,0,0,0,0,0,0],
    [0,3,0,0,0,0,0,0,0,0,0,0,8, 4,0,0,0,0,0,0,0,0,0,0,0,0, 0,0,0,0,0,0,0,0,0,0,0,0,0, 0,0,0,0,0,0,0,0,3,0,0,0,0, 0,0,0,0,0,0,0,0,0,0,0,0,0],
    [0,0,0,0,0,0,0,0,0,0,0,0,9, 6,0,8,0,0,0,0,0,0,0,0,0,0, 0,0,0,0,0,0,0,0,0,0,0,0,0, 0,3,0,0,0,0,0,0,0,0,0,0,0, 0,0,0,0,0,0,0,0,0,0,0,0,0],
]


def fx(x):
    return x / W


def fy(y):
    return 1 - y / H


fig = plt.figure(figsize=(W / 100, H / 100), dpi=100)
fig.patch.set_facecolor('white')
ax = fig.add_axes([fx(27), fy(303.3), (368 - 27) / W, 303.3 / H])
ax.set_xlim(0, 384)
ax.set_ylim(-52.1, 32.9)
ax2 = ax.twinx()
ax2.set_ylim(-7.1, 77.9)
ax2.patch.set_visible(False)

# grid
ax.set_xticks(day_hours)
ax.set_xticklabels(day_labels)
ax.set_yticks(np.arange(-45, 31, 5))
ax.grid(True, color='#d8d8d8', lw=0.8)
ax.set_axisbelow(True)
ax.axhline(0, color='#a8a8a8', lw=1.8, zorder=1)
ax2.set_yticks(np.arange(0, 76, 5))

for a in (ax, ax2):
    for s in a.spines.values():
        s.set_color('#a8a8a8')
        s.set_linewidth(1.2)
    a.spines['top'].set_visible(False)
ax.tick_params(axis='y', length=0, pad=7, labelsize=4)
ax2.tick_params(axis='y', length=0, pad=7, labelsize=4)
ax.tick_params(axis='x', length=0, pad=1.5, labelsize=3.7, labelrotation=-90)

# members
for i in range(30):
    c = member_colors[i]
    kw = dict(color=c, lw=0.6, marker='o', ms=1.0, mec=c, mfc=c, zorder=2)
    ax.plot(hours, t850[i], **kw)
    ax.plot(hours, t500[i], **kw)
    ax2.plot(hours_pr, precip[i], **kw)

# control, GFS, mean
for a, x, ys in ((ax, hours, (ctrl850, gfs850, mean850)), (ax, hours, (ctrl500, gfs500, mean500)),
                 (ax2, hours_pr, (ctrl_pr, gfs_pr, mean_pr))):
    a.plot(x, ys[0], color='#0000ff', lw=1.5, zorder=4)
    a.plot(x, ys[1], color='black', lw=1.4, zorder=5)
    a.plot(x, ys[2], color='#ff0000', lw=2.3, zorder=6)

# snow risk
ax.plot(snow_hours, [-48.9] * len(snow_hours), ls='none', marker='$*$', ms=3.2,
        color='#5050ff', clip_on=False, zorder=7)
ax.plot(snow_hours, [-50.4] * len(snow_hours), ls='none', marker=(6, 2, 0), ms=3.6,
        mew=1.1, color='#70c0ff', clip_on=False, zorder=7)

# labels inside plot
small = dict(fontsize=4.2, family='DejaVu Sans', color='black')
fig.text(fx(32), fy(95), 'Temp. 850hPa', va='center', **small)
fig.text(fx(32), fy(187), 'Temp. 500hPa', va='center', **small)
fig.text(fx(32), fy(230), 'Précipitations', va='center', **small)

title = fig.text(fx(30), fy(27), 'GEFS-12Z -UPD: 29-01-2026 22:00', fontsize=8,
                 family='DejaVu Sans', color='#ffff30', va='center')
title.set_path_effects([pe.withStroke(linewidth=1.2, foreground='#a0a000')])

# axis captions
fig.text(fx(5), fy(307), '(°C)', va='center', **small)
fig.text(fx(3), fy(314), 'Alt. 162m', va='center', **small)
fig.text(fx(375), fy(308), '(mm)', va='center', **small)

# legend
fig.add_artist(Line2D([fx(18), fx(35)], [fy(323), fy(323)], color='#ff0000', lw=2.2))
fig.text(fx(40), fy(323), 'Moyenne des scénarios', va='center', **small)
fig.add_artist(Line2D([fx(120), fx(138)], [fy(323), fy(323)], color='#0000ff', lw=2))
fig.text(fx(141), fy(323), 'Run de contrôle', va='center', **small)
fig.add_artist(Line2D([fx(120), fx(138)], [fy(328), fy(328)], color='black', lw=2))
fig.text(fx(141), fy(328), 'Run GFS', va='center', **small)
fig.add_artist(Line2D([fx(32)], [fy(333)], ls='none', marker=(6, 2, 0), ms=3.6, mew=1.1,
                      color='#70c0ff'))
fig.text(fx(40), fy(333), 'Risque neige', va='center', **small)
fig.text(fx(181), fy(331), '30 Perts.', va='center', **small)
for i, c in enumerate(member_colors):
    x0 = 214 + i * 5.8
    fig.add_artist(Rectangle((fx(x0), fy(333)), 5.2 / W, 3.5 / H, transform=fig.transFigure,
                             facecolor=c, edgecolor='none'))
    fig.text(fx(x0 + 2.6), fy(326.5), '%02d' % (i + 1), fontsize=2.6, ha='center', va='center',
             color='black')

# footer
fig.add_artist(Rectangle((fx(10), fy(357)), 223 / W, 19 / H, transform=fig.transFigure,
                         facecolor='white', edgecolor='black', lw=1))
fig.text(fx(15), fy(342), 'Diagramme des ensembles GEFS sur 384h : 40.6N 22.9E', fontsize=4.7,
         fontweight='bold', va='center')
fig.text(fx(15), fy(350), 'Températures 850hPa et 500hPa (°C) , précipitations (mm)', fontsize=4.5,
         va='center')
fig.text(fx(240), fy(341), 'Ensemble GEFS du 29/01/2026 - 12Z', va='center', **small)
fig.text(fx(240), fy(350), 'Copyright 2026 Meteociel.fr', fontsize=4.3, fontweight='bold',
         va='center')

fig.savefig('out.png', dpi=100)
